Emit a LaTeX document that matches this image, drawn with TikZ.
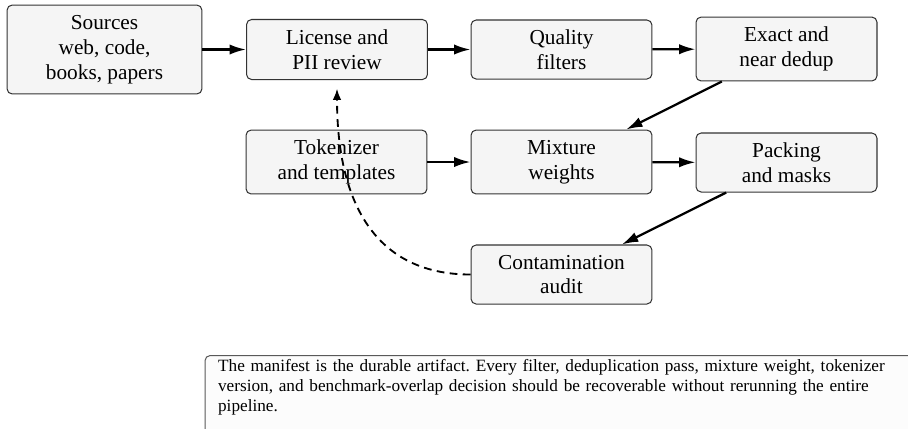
\documentclass[tikz,border=0pt]{standalone}
\usepackage{fontspec}
\setmainfont{Liberation Serif}
\usetikzlibrary{arrows.meta}
\begin{document}
\frenchspacing
\begin{tikzpicture}[x=0.488pt,y=-0.488pt,
  stage/.style={draw=black!80, line width=0.5pt, fill=black!4, rounded corners=2.5pt,
    align=center, inner sep=0pt, minimum width=88.3pt,
    font=\fontsize{10.4}{12.1}\selectfont},
  flow/.style={line width=1.1pt, -{Latex[length=8pt,width=5pt]}},
  loop/.style={line width=0.9pt, dash pattern=on 3.8pt off 2.6pt,
    -{Latex[length=5.5pt,width=4.2pt]}, shorten >=4.2pt},
  notebox/.style={draw=black!65, line width=0.5pt, fill=black!1, rounded corners=2.5pt,
    align=left, text width=350pt, inner xsep=6.4pt, inner ysep=2pt,
    font=\fontsize{8.4}{9.75}\selectfont}
]
\clip (0,0) rectangle (908,428);
\useasboundingbox (0,0) rectangle (908,428);

% pipeline stages
\node[stage, minimum width=95.1pt, minimum height=43.4pt] (src) at (104.5,49.5) {Sources\\web, code,\\books, papers};
\node[stage, minimum height=29.3pt] (lic) at (337,49.5) {License and\\PII review};
\node[stage, minimum height=28.8pt] (qual) at (561.5,49.5) {Quality\\filters};
\node[stage, minimum height=31.2pt] (dedup) at (786.5,49) {Exact and\\near dedup};
\node[stage, minimum height=31.2pt] (tok) at (336.5,162) {Tokenizer\\and templates};
\node[stage, minimum height=31.2pt] (mix) at (561.5,162) {Mixture\\weights};
\node[stage, minimum height=28.8pt] (pack) at (786.5,162.5) {Packing\\and masks};
\node[stage, minimum height=28.8pt] (audit) at (561.5,274.5) {Contamination\\audit};

% main flow
\draw[flow] (src) -- (lic);
\draw[flow] (lic) -- (qual);
\draw[flow] (qual) -- (dedup);
\draw[flow] (dedup) -- (mix);
\draw[flow] (tok) -- (mix);
\draw[flow] (mix) -- (pack);
\draw[flow] (pack) -- (audit);

% feedback from the audit to the review stage
\draw[loop] (audit.west) .. controls +(-90,0) and +(0,130) .. (lic.south);

% note
\node[notebox, anchor=north west] (note) at (204.5,355) {The manifest is the durable artifact. Every filter, deduplication pass, mixture weight, tokenizer\\version, and benchmark-overlap decision should be recoverable without rerunning the entire\\pipeline.\par\vspace{6pt}\null};
\end{tikzpicture}
\end{document}
